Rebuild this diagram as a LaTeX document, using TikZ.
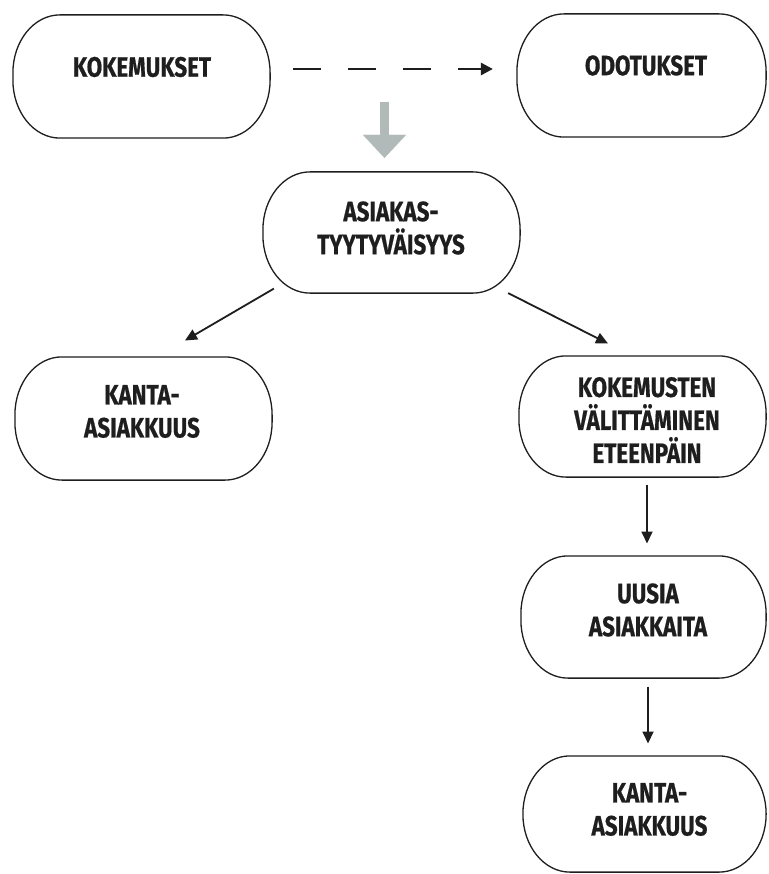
\documentclass[tikz,border=0pt]{standalone}
\usepackage{fontspec}
\newfontfamily\lblfont{Fira Sans}[FakeStretch=0.8, FakeBold=0.6]
\usetikzlibrary{arrows.meta}
\definecolor{ink}{RGB}{30,30,30}
\definecolor{grayarr}{RGB}{178,185,185}
\newcommand\drawoval[1]{%
  \draw[ovalline] ([xshift=47pt]#1.north west) -- ([xshift=-47pt]#1.north east)
    arc[start angle=90, end angle=0, x radius=47pt, y radius=58pt]
    -- ([yshift=58pt]#1.south east)
    arc[start angle=0, end angle=-90, x radius=47pt, y radius=58pt]
    -- ([xshift=47pt]#1.south west)
    arc[start angle=270, end angle=180, x radius=47pt, y radius=58pt]
    -- ([yshift=-58pt]#1.north west)
    arc[start angle=180, end angle=90, x radius=47pt, y radius=58pt] -- cycle;}
\begin{document}
\begin{tikzpicture}[x=1pt,y=-1pt,
  box/.style={inner sep=0pt, outer sep=0.6pt},
  ovalline/.style={draw=ink, line width=1.3pt, fill=white},
  lbl/.style={font=\lblfont\bfseries\fontsize{28}{33}\selectfont, text=ink, align=center, inner sep=0pt},
  arr/.style={draw=ink, line width=1.8pt, -{Triangle[length=12pt,width=11pt]}},
  bigarr/.style={draw=grayarr, line width=9pt, -{Triangle[length=23pt,width=43pt,line width=0.1pt]}}
]
\useasboundingbox[fill=white] (0,0) rectangle (768,874);

% boxes
\node[box, minimum width=256pt, minimum height=122pt] (kok) at (141.5,76.5) {};
\node[box, minimum width=248pt, minimum height=122pt] (odo) at (641.5,75.5) {};
\node[box, minimum width=256pt, minimum height=120pt] (asia) at (391.5,232.5) {};
\node[box, minimum width=256pt, minimum height=122pt] (kl) at (143.5,418.5) {};
\node[box, minimum width=246pt, minimum height=120pt] (kv) at (642.5,416.5) {};
\node[box, minimum width=244pt, minimum height=121pt] (uu) at (643.5,617) {};
\node[box, minimum width=242pt, minimum height=115pt] (kb) at (644.5,814) {};
\foreach \b in {kok,odo,asia,kl,kv,uu,kb} {\drawoval{\b}}

% labels
\node[lbl] (kokT) at (142,67) {KOKEMUKSET};
\node[lbl] (odoT) at (646,65.5) {ODOTUKSET};
\node[lbl] (asiaT) at (391,228) {ASIAKAS-\\TYYTYVÄISYYS};
\node[lbl] (klT) at (142,411.5) {KANTA-\\ASIAKKUUS};
\node[lbl] (kvT) at (647,420) {KOKEMUSTEN\\VÄLITTÄMINEN\\ETEENPÄIN};
\node[lbl] (uuT) at (648,610) {UUSIA\\ASIAKKAITA};
\node[lbl] (kbT) at (649.5,809.5) {KANTA-\\ASIAKKUUS};

% connectors
\draw[arr, line width=2.8pt, dash pattern=on 28pt off 27pt, -{Triangle[length=12pt,width=12pt]}]
  ([shift={(23,-7.5)}]kok.east) -- ([shift={(-24,-6.5)}]odo.west);
\draw[bigarr] ([shift={(-7,-70)}]asia.north) -- ([shift={(-7,-14)}]asia.north);
\draw[arr] ([shift={(11,-4.5)}]asia.south west) -- ([shift={(41.5,-16.4)}]kl.north);
\draw[arr] ([shift={(-12,0)}]asia.south east) -- ([shift={(-34.5,-12.4)}]kv.north);
\draw[arr] ([shift={(4.5,7.4)}]kv.south) -- ([shift={(3.5,-12.4)}]uu.north);
\draw[arr] ([shift={(4.5,8.4)}]uu.south) -- ([shift={(3.5,-12.4)}]kb.north);
\end{tikzpicture}
\end{document}
